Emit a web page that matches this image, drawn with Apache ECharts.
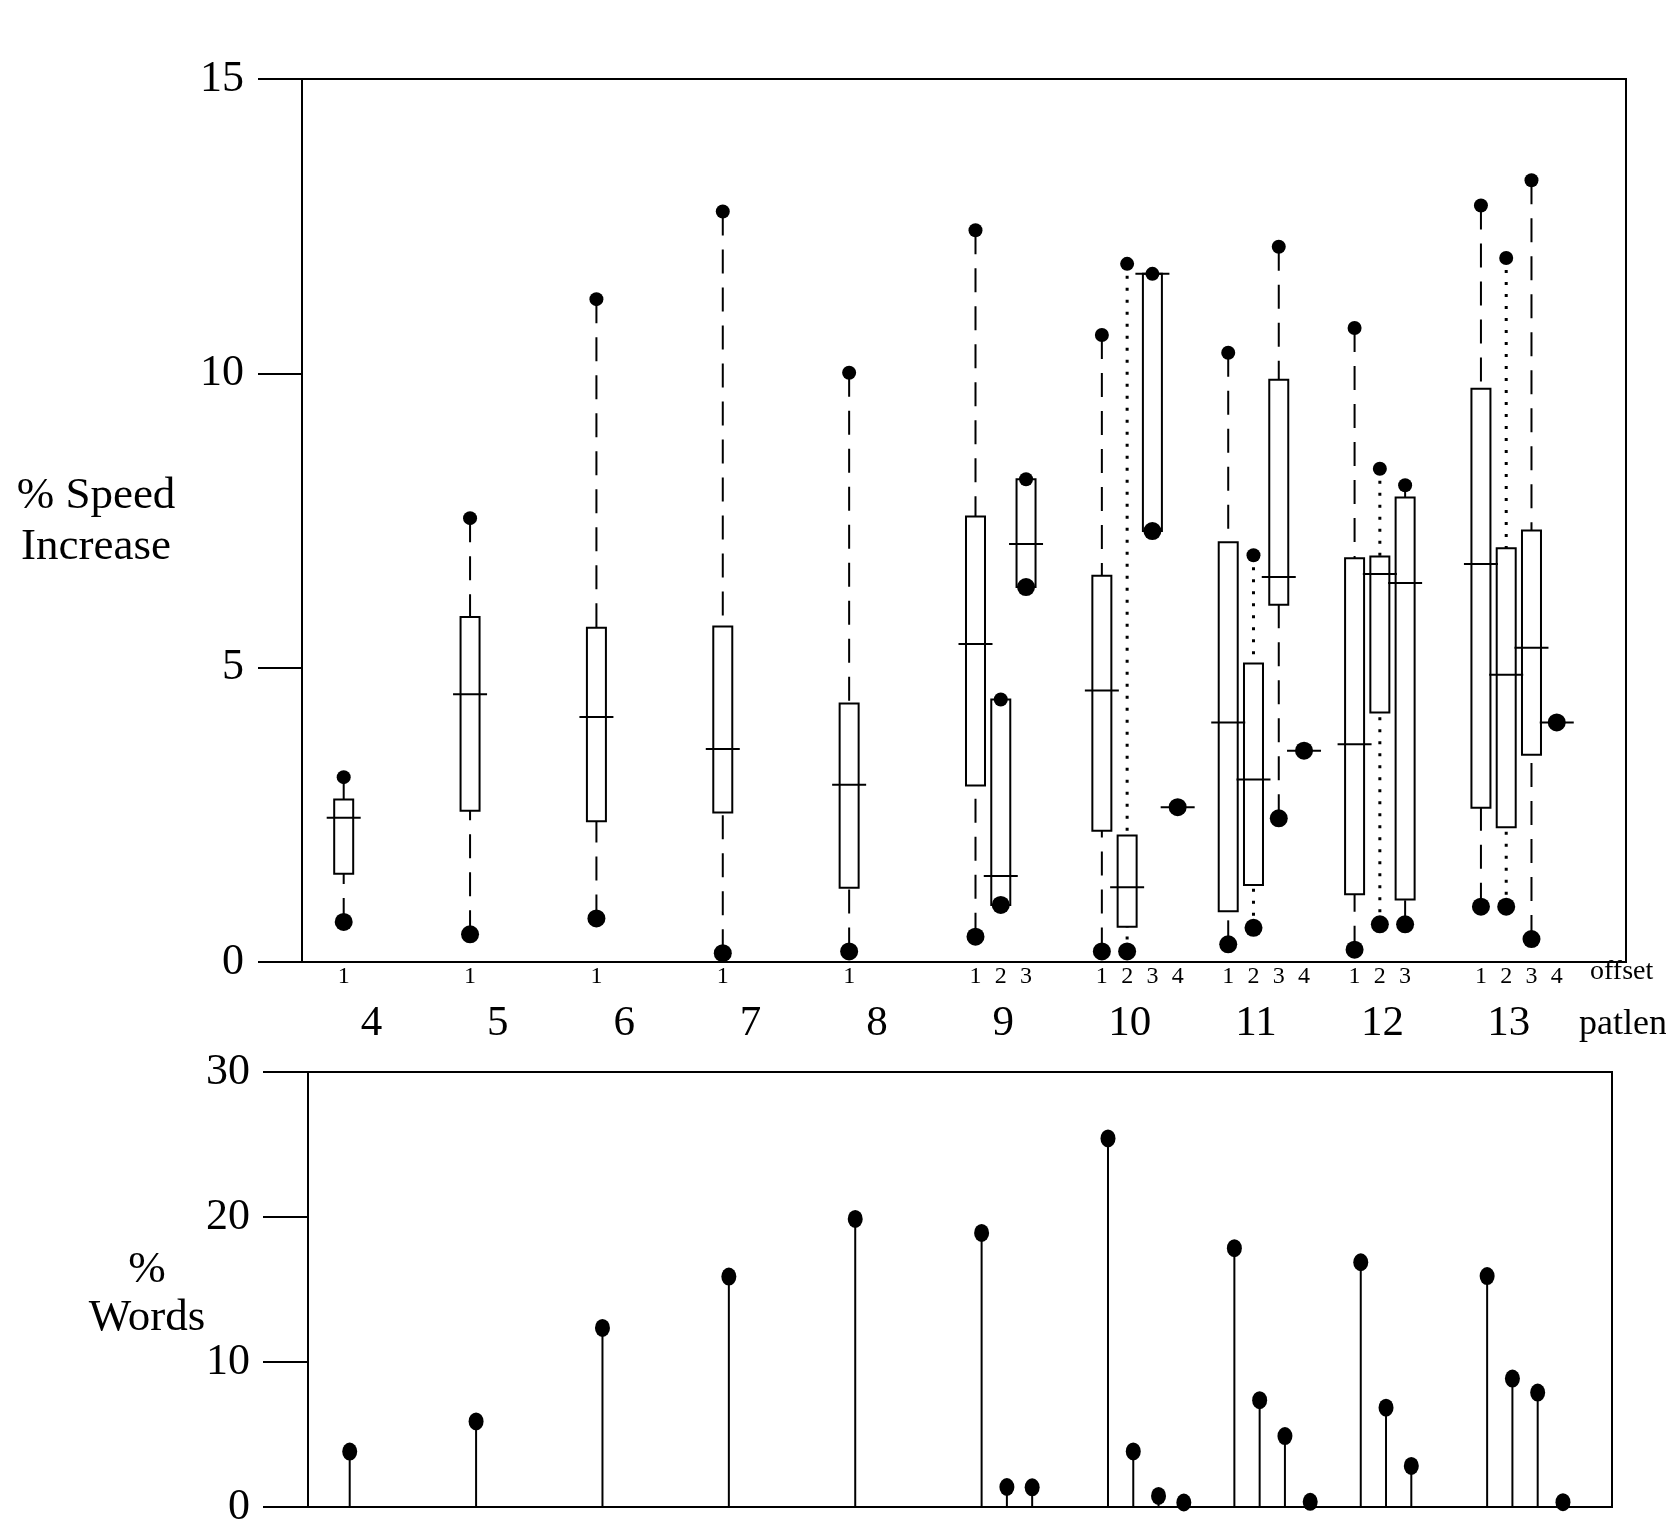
<!DOCTYPE html>
<html><head><meta charset="utf-8">
<script src="https://cdn.jsdelivr.net/npm/echarts@6/dist/echarts.min.js"></script>
<style>html,body{margin:0;padding:0;background:#fff}#c{width:1666px;height:1530px}</style>
</head><body><div id="c"></div>
<script>
// ---- data ----
const groups   = [4,5,6,7,8,9,10,11,12,13];
const patlen   = [4,5,6,7,8,9,9,9,10,10,10,10,11,11,11,11,12,12,12,13,13,13,13];
const offset   = [1,1,1,1,1,1,2,3,1,2,3,4,1,2,3,4,1,2,3,1,2,3,4];
const speedMin = [0.68,0.47,0.74,0.15,0.18,0.43,0.97,6.37,0.18,0.18,7.32,2.63,0.30,0.58,2.44,3.59,0.21,0.64,0.64,0.94,0.94,0.39,4.07];
const speedQ1  = [1.50,2.57,2.39,2.54,1.26,3.00,0.97,6.37,2.23,0.60,7.32,2.63,0.86,1.31,6.07,3.59,1.15,4.24,1.06,2.62,2.29,3.52,4.07];
const speedMed = [2.45,4.55,4.16,3.62,3.01,5.40,1.46,7.10,4.61,1.27,11.69,2.63,4.07,3.10,6.54,3.59,3.70,6.59,6.44,6.76,4.88,5.34,4.07];
const speedQ3  = [2.76,5.86,5.68,5.70,4.39,7.57,4.46,8.20,6.56,2.15,11.69,2.63,7.13,5.07,9.89,3.59,6.86,6.89,7.89,9.74,7.03,7.33,4.07];
const speedMax = [3.14,7.54,11.26,12.75,10.01,12.43,4.46,8.20,10.65,11.86,11.69,2.63,10.35,6.91,12.15,3.59,10.77,8.38,8.10,12.85,11.96,13.28,4.07];
const wordsPct = [3.82,5.90,12.35,15.89,19.87,18.90,1.38,1.36,25.42,3.83,0.76,0.31,17.85,7.37,4.89,0.36,16.88,6.85,2.83,15.93,8.86,7.89,0.33];
const speedTicks = [0,5,10,15];
const wordsTicks = [0,10,20,30];

// ---- derived tables ----
const xpos = patlen.map((g,i)=> 5*(g-4) + offset[i] - 1);
const boxData = xpos.map((x,i)=>[x, speedMin[i], speedQ1[i], speedMed[i], speedQ3[i], speedMax[i], offset[i]]);
const wordsData = xpos.map((x,i)=>[x, wordsPct[i]]);
const offsetLabel = {}; xpos.forEach((x,i)=>{ offsetLabel[x.toFixed(2)] = String(offset[i]); });
const groupPos = groups.map(g=> 5*(g-4) + 1.1);
const groupLabel = {}; groupPos.forEach((p,i)=>{ groupLabel[p.toFixed(2)] = String(groups[i]); });

const FONT = 'Liberation Serif';
const K = '#000';

function renderBox(params, api){
  const x = api.value(0), mn = api.value(1), q1 = api.value(2), md = api.value(3), q3 = api.value(4), mx = api.value(5), off = api.value(6);
  const pMin = api.coord([x,mn]), pQ1 = api.coord([x,q1]), pMd = api.coord([x,md]), pQ3 = api.coord([x,q3]), pMax = api.coord([x,mx]);
  const cx = pMd[0], bw = 19, mw = 34;
  const ch = [];
  const dotted = off === 2;
  const wStyle = dotted ? {stroke:K, lineWidth:3, lineDash:[3,9]} : {stroke:K, lineWidth:2, lineDash:[24,14]};
  if (mx === mn) {
    ch.push({type:'line', shape:{x1:cx-mw/2, y1:pMd[1], x2:cx+mw/2, y2:pMd[1]}, style:{stroke:K, lineWidth:2}});
    ch.push({type:'circle', shape:{cx:cx, cy:pMd[1], r:9}, style:{fill:K}});
    return {type:'group', children:ch};
  }
  if (pQ3[1] - pMax[1] > 2) ch.push({type:'line', shape:{x1:cx, y1:pMax[1], x2:cx, y2:pQ3[1]}, style:wStyle});
  if (pMin[1] - pQ1[1] > 2) ch.push({type:'line', shape:{x1:cx, y1:pMin[1], x2:cx, y2:pQ1[1]}, style:wStyle});
  ch.push({type:'rect', shape:{x:cx-bw/2, y:pQ3[1], width:bw, height:pQ1[1]-pQ3[1]}, style:{fill:'none', stroke:K, lineWidth:2}});
  ch.push({type:'line', shape:{x1:cx-mw/2, y1:pMd[1], x2:cx+mw/2, y2:pMd[1]}, style:{stroke:K, lineWidth:2}});
  ch.push({type:'circle', shape:{cx:cx, cy:pMax[1], r:7}, style:{fill:K}});
  ch.push({type:'circle', shape:{cx:cx, cy:pMin[1], r:9}, style:{fill:K}});
  return {type:'group', children:ch};
}

function renderStem(params, api){
  const x = api.value(0), v = api.value(1);
  const p0 = api.coord([x,0]), p1 = api.coord([x,v]);
  return {type:'line', shape:{x1:p0[0], y1:p0[1], x2:p1[0], y2:p1[1]}, style:{stroke:K, lineWidth:2}};
}

const chart = echarts.init(document.getElementById('c'), null, {renderer:'canvas', width:1666, height:1530});
const xLine = {show:true, onZero:false, lineStyle:{color:K, width:2}};
const yLine = {show:true, onZero:false, lineStyle:{color:K, width:2}};
chart.setOption({
  animation:false,
  backgroundColor:'#fff',
  grid:[
    {left:302, top:79, width:1324, height:883, show:true, borderColor:K, borderWidth:2, containLabel:false},
    {left:308, top:1072, width:1304, height:435, show:true, borderColor:K, borderWidth:2, containLabel:false}
  ],
  xAxis:[
    {type:'value', gridIndex:0, min:-1.65, max:50.74, position:'bottom',
     axisLine:xLine, axisTick:{show:false}, splitLine:{show:false},
     axisLabel:{show:true, customValues:xpos, margin:3, fontFamily:FONT, fontSize:24, color:K,
       formatter:v=> offsetLabel[Number(v).toFixed(2)] || ''}},
    {type:'value', gridIndex:0, min:-1.65, max:50.74, position:'bottom',
     axisLine:{show:false, onZero:false}, axisTick:{show:false}, splitLine:{show:false},
     axisLabel:{show:true, customValues:groupPos, margin:40, fontFamily:FONT, fontSize:43, color:K,
       formatter:v=> groupLabel[Number(v).toFixed(2)] || ''}},
    {type:'value', gridIndex:1, min:-1.65, max:49.94, position:'bottom',
     axisLine:xLine, axisTick:{show:false}, splitLine:{show:false}, axisLabel:{show:false}}
  ],
  yAxis:[
    {type:'value', gridIndex:0, min:0, max:15, interval:5, position:'left',
     axisLine:yLine, axisTick:{show:true, length:44, lineStyle:{color:K, width:2}}, splitLine:{show:false},
     axisLabel:{margin:58, fontFamily:FONT, fontSize:44, color:K, formatter:v=> speedTicks.includes(v) ? String(v) : ''}},
    {type:'value', gridIndex:1, min:0, max:30, interval:10, position:'left',
     axisLine:yLine, axisTick:{show:true, length:45, lineStyle:{color:K, width:2}}, splitLine:{show:false},
     axisLabel:{margin:58, fontFamily:FONT, fontSize:44, color:K, formatter:v=> wordsTicks.includes(v) ? String(v) : ''}}
  ],
  series:[
    {type:'custom', xAxisIndex:0, yAxisIndex:0, renderItem:renderBox, data:boxData, clip:false, z:3},
    {type:'custom', xAxisIndex:2, yAxisIndex:1, renderItem:renderStem, data:wordsData, clip:false, z:3},
    {type:'scatter', xAxisIndex:2, yAxisIndex:1, data:wordsData, symbol:'circle', symbolSize:[15,18],
     itemStyle:{color:K, opacity:1}, z:4, silent:true}
  ],
  graphic:[
    {type:'text', x:96, y:522, style:{text:'% Speed\nIncrease', font:'45px "Liberation Serif"', fill:K, align:'center', verticalAlign:'middle', lineHeight:51}},
    {type:'text', x:147, y:1294, style:{text:'%\nWords', font:'45px "Liberation Serif"', fill:K, align:'center', verticalAlign:'middle', lineHeight:48}},
    {type:'text', x:1590, y:972, style:{text:'offset', font:'28px "Liberation Serif"', fill:K, align:'left', verticalAlign:'middle'}},
    {type:'text', x:1579, y:1025, style:{text:'patlen', font:'36px "Liberation Serif"', fill:K, align:'left', verticalAlign:'middle'}}
  ]
});
</script>
</body></html>
